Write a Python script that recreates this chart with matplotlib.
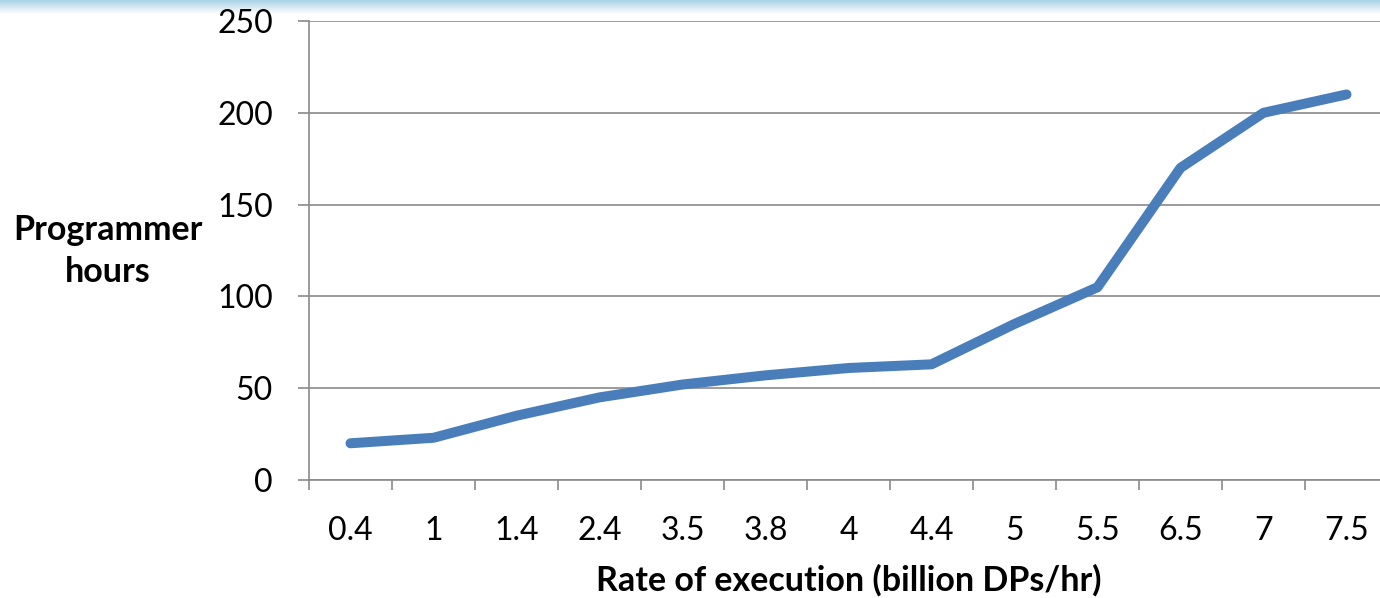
import numpy as np
import matplotlib
matplotlib.use('Agg')
import matplotlib.pyplot as plt

plt.rcParams['font.family'] = ['Lato', 'DejaVu Sans']

rates = ['0.4', '1', '1.4', '2.4', '3.5', '3.8', '4', '4.4', '5', '5.5', '6.5', '7', '7.5']
hours = [20, 23, 35, 45, 52, 57, 61, 63, 85, 105, 170, 200, 210]

fig = plt.figure(figsize=(13.8, 5.98), dpi=100)

# light blue band along the top edge
band = fig.add_axes([0, 1 - 14 / 598, 1, 14 / 598])
grad = np.linspace(1, 0, 50).reshape(-1, 1)
band.imshow(grad, aspect='auto', cmap=matplotlib.colors.LinearSegmentedColormap.from_list(
    'band', ['#ffffff', '#a9d3e6']), extent=[0, 1, 0, 1])
band.axis('off')

ax = fig.add_axes([309 / 1380, 1 - 480 / 598, 1079 / 1380, 459 / 598])
x = np.arange(len(rates))
ax.plot(x, hours, color='#4a7ebb', lw=7.2, solid_capstyle='round', solid_joinstyle='round')

ax.set_xlim(-0.5, len(rates) - 0.5)
ax.set_ylim(0, 250)
ax.set_yticks(range(0, 251, 50))
ax.yaxis.grid(True, color='#8a8a8a', lw=1.2)
ax.set_axisbelow(True)

ax.set_xticks(x)
ax.set_xticklabels(rates)
ax.set_xticks(np.arange(-0.5, len(rates)), minor=True)
ax.tick_params(axis='x', which='major', length=0, pad=26, labelsize=23)
ax.tick_params(axis='x', which='minor', length=7.5, width=1.2, color='#8a8a8a')
ax.tick_params(axis='y', length=8, width=1.2, color='#8a8a8a', pad=18, labelsize=23)

for s in ['top', 'right']:
    ax.spines[s].set_visible(False)
for s in ['left', 'bottom']:
    ax.spines[s].set_color('#8a8a8a')
    ax.spines[s].set_linewidth(1.2)

ax.set_xlabel('Rate of execution (billion DPs/hr)', fontsize=24.5, fontweight='bold', labelpad=13)
fig.text(108 / 1380, 1 - 251 / 598, 'Programmer\nhours', fontsize=24.5, fontweight='bold',
         ha='center', va='center', linespacing=1.4)

fig.savefig('out.png', dpi=100)
